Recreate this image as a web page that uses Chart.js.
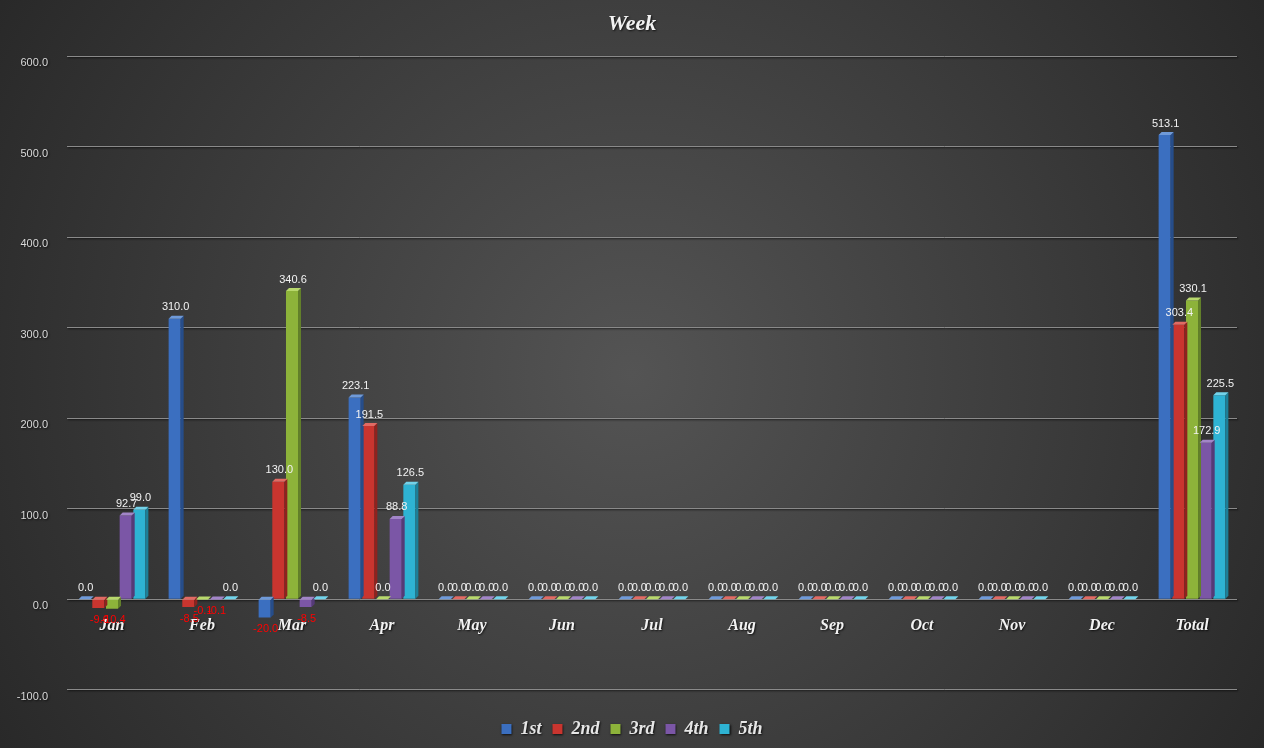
<!DOCTYPE html>
<html>
<head>
<meta charset="utf-8">
<title>Week</title>
<script src="https://cdn.jsdelivr.net/npm/chart.js@4/dist/chart.umd.min.js"></script>
<style>
    html, body { margin: 0; padding: 0; background: #2b2b2b; }
    #wrap { width: 1264px; height: 748px; position: relative; }
</style>
</head>
<body>
<div id="wrap"><canvas id="chart"></canvas></div>
<script>
// Chart data
const months = ['Jan', 'Feb', 'Mar', 'Apr', 'May', 'Jun', 'Jul', 'Aug', 'Sep', 'Oct', 'Nov', 'Dec', 'Total'];
const week1 = [0.0, 310.0, -20.0, 223.1, 0, 0, 0, 0, 0, 0, 0, 0, 513.1];
const week2 = [-9.6, -8.5, 130.0, 191.5, 0, 0, 0, 0, 0, 0, 0, 0, 303.4];
const week3 = [-10.4, -0.1, 340.6, 0.0, 0, 0, 0, 0, 0, 0, 0, 0, 330.1];
const week4 = [92.7, -0.1, -8.5, 88.8, 0, 0, 0, 0, 0, 0, 0, 0, 172.9];
const week5 = [99.0, 0.0, 0.0, 126.5, 0, 0, 0, 0, 0, 0, 0, 0, 225.5];
const seriesNames = ['1st', '2nd', '3rd', '4th', '5th'];
const yTicks = [-100, 0, 100, 200, 300, 400, 500, 600];

// front / side / top face colours for the fake 3D columns
const faces = [
    { front: '#3b6fc0', side: '#264d8a', top: '#6f9ad9' },
    { front: '#c9352f', side: '#8f221e', top: '#e26a63' },
    { front: '#8db33a', side: '#62802a', top: '#b8d86c' },
    { front: '#7b56a6', side: '#553a78', top: '#a285c8' },
    { front: '#2eb3d3', side: '#1d7f97', top: '#72d3ea' }
];

const serif = "'Liberation Serif', 'DejaVu Serif', serif";
const sans = "'Liberation Sans', 'DejaVu Sans', sans-serif";

// dark radial background + text shadow for axes, title and legend
const backgroundPlugin = {
    id: 'excelBackground',
    beforeDraw(chart) {
        const ctx = chart.ctx;
        const w = chart.width, h = chart.height;
        ctx.save();
        const g = ctx.createRadialGradient(w / 2, h / 2, 0, w / 2, h / 2, w * 0.62);
        g.addColorStop(0, '#545454');
        g.addColorStop(1, '#262626');
        ctx.fillStyle = g;
        ctx.fillRect(0, 0, w, h);
        ctx.restore();
        ctx.shadowColor = 'rgba(0,0,0,0.75)';
        ctx.shadowOffsetX = 1;
        ctx.shadowOffsetY = 1;
        ctx.shadowBlur = 2;
    },
    beforeDatasetsDraw(chart) {
        const ctx = chart.ctx;
        ctx.shadowColor = 'rgba(0,0,0,0)';
        ctx.shadowOffsetX = 0;
        ctx.shadowOffsetY = 0;
        ctx.shadowBlur = 0;
    }
};

// side and top faces on every column, then the value labels
const columnPlugin = {
    id: 'columns3d',
    afterDatasetsDraw(chart) {
        const ctx = chart.ctx;
        const d = 3;
        ctx.save();
        chart.data.datasets.forEach((ds, i) => {
            const meta = chart.getDatasetMeta(i);
            const f = faces[i];
            meta.data.forEach((el) => {
                const right = el.x + el.width / 2;
                const left = el.x - el.width / 2;
                const top = Math.min(el.y, el.base);
                const bottom = Math.max(el.y, el.base);
                ctx.fillStyle = f.side;
                ctx.beginPath();
                ctx.moveTo(right, top);
                ctx.lineTo(right + d, top - d);
                ctx.lineTo(right + d, bottom - d);
                ctx.lineTo(right, bottom);
                ctx.closePath();
                ctx.fill();
                ctx.fillStyle = f.top;
                ctx.beginPath();
                ctx.moveTo(left, top);
                ctx.lineTo(left + d, top - d);
                ctx.lineTo(right + d, top - d);
                ctx.lineTo(right, top);
                ctx.closePath();
                ctx.fill();
            });
        });

        ctx.font = '11px ' + sans;
        ctx.textAlign = 'center';
        chart.data.datasets.forEach((ds, i) => {
            const meta = chart.getDatasetMeta(i);
            meta.data.forEach((el, j) => {
                const v = ds.data[j];
                if (v < 0) {
                    ctx.fillStyle = '#ff0000';
                    ctx.textBaseline = 'top';
                    ctx.fillText(v.toFixed(1), el.x + 1, el.y + 6);
                } else {
                    ctx.fillStyle = '#f2f2f2';
                    ctx.textBaseline = 'bottom';
                    ctx.fillText(v.toFixed(1), el.x + 1, el.y - 6);
                }
            });
        });
        ctx.restore();
    }
};

const allWeeks = [week1, week2, week3, week4, week5];
const datasets = allWeeks.map((values, i) => ({
    label: seriesNames[i],
    data: values,
    backgroundColor: faces[i].front,
    borderWidth: 0,
    categoryPercentage: 0.76,
    barPercentage: 0.88
}));

const ctx = document.getElementById('chart').getContext('2d');
const chart = new Chart(ctx, {
    type: 'bar',
    data: { labels: months, datasets: datasets },
    plugins: [backgroundPlugin, columnPlugin],
    options: {
        responsive: true,
        maintainAspectRatio: false,
        animation: false,
        layout: { padding: { left: 0, right: 0, top: 0, bottom: 0 } },
        plugins: {
            title: {
                display: true,
                text: 'Week',
                color: '#f2f2f2',
                font: { family: serif, size: 22, weight: 'bold', style: 'italic' },
                padding: { top: 11, bottom: 19 }
            },
            legend: {
                position: 'bottom',
                // empty legend title only used as spacer between plot and legend
                title: {
                    display: true,
                    text: '',
                    font: { size: 1 },
                    padding: { top: 18, bottom: 0 }
                },
                labels: {
                    color: '#e6e6e6',
                    boxWidth: 10,
                    boxHeight: 10,
                    padding: 11,
                    font: { family: serif, size: 18, weight: 'bold', style: 'italic' }
                }
            },
            tooltip: { enabled: false }
        },
        scales: {
            x: {
                position: { y: 0 },
                grid: { display: false },
                border: { display: false },
                ticks: {
                    color: '#f2f2f2',
                    padding: 9,
                    maxRotation: 0,
                    font: { family: serif, size: 16, weight: 'bold', style: 'italic' }
                },
                afterFit(scale) { scale.height = 0; }
            },
            y: {
                min: -100,
                max: 600,
                afterBuildTicks(scale) { scale.ticks = yTicks.map(v => ({ value: v })); },
                afterFit(scale) { scale.width = 67; },
                grid: { color: '#8a8a8a', lineWidth: 1, drawTicks: false },
                border: { display: false },
                ticks: {
                    color: '#d9d9d9',
                    padding: 19,
                    labelOffset: 7,
                    font: { family: sans, size: 11 },
                    callback: (v) => Number(v).toFixed(1)
                }
            },
            // empty right axis, only reserves the right margin
            yRight: {
                position: 'right',
                display: true,
                grid: { display: false },
                border: { display: false },
                ticks: { display: false },
                afterFit(scale) { scale.width = 27; }
            }
        }
    }
});
</script>
</body>
</html>
